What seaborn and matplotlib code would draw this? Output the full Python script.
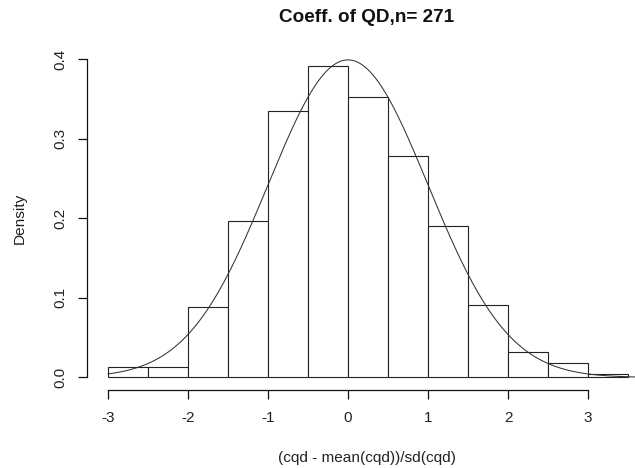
import numpy as np
import pandas as pd
import matplotlib
matplotlib.use("Agg")
import matplotlib.pyplot as plt
import seaborn as sns

# ---- data ----
bin_edges = [-3.0, -2.5, -2.0, -1.5, -1.0, -0.5, 0.0, 0.5, 1.0, 1.5, 2.0, 2.5, 3.0, 3.5]
bin_centers = [-2.75, -2.25, -1.75, -1.25, -0.75, -0.25, 0.25, 0.75, 1.25, 1.75, 2.25, 2.75, 3.25]
density = [0.0136, 0.0136, 0.0882, 0.1966, 0.3348, 0.391, 0.3528, 0.2786, 0.1903,
           0.0911, 0.0324, 0.0178, 0.0038]
x_ticks = [-3, -2, -1, 0, 1, 2, 3]
x_tick_labels = ["-3", "-2", "-1", "0", "1", "2", "3"]
y_ticks = [0.0, 0.1, 0.2, 0.3, 0.4]
y_tick_labels = ["0.0", "0.1", "0.2", "0.3", "0.4"]
title = "Coeff. of QD,n= 271"
xlabel = "(cqd - mean(cqd))/sd(cqd)"
ylabel = "Density"
norm_mu, norm_sigma = 0.0, 1.0

sns.set_style("white")
plt.rcParams["font.family"] = ["Liberation Sans", "DejaVu Sans"]

W, H = 635, 468
fig = plt.figure(figsize=(W / 100, H / 100), dpi=100)
# plot region in pixels
left_px, right_px = 87, 635
bottom_px, top_px = 390.2, 46.3
ax = fig.add_axes([left_px / W, 1 - bottom_px / H, (right_px - left_px) / W, (bottom_px - top_px) / H])

df = pd.DataFrame({"x": bin_centers, "d": density})
sns.histplot(data=df, x="x", weights="d", bins=bin_edges, stat="count",
             color="white", edgecolor="#222222", linewidth=0.8, alpha=1, ax=ax)

xs = np.linspace(-3.0, 3.5875, 400)
ys = np.exp(-((xs - norm_mu) ** 2) / (2 * norm_sigma ** 2)) / (norm_sigma * np.sqrt(2 * np.pi))
sns.lineplot(x=xs, y=ys, color="#333333", linewidth=0.75, ax=ax)

ax.set_xlim(-3.2625, 3.5875)
ax.set_ylim(-0.016, 0.416)

for s in ["top", "right"]:
    ax.spines[s].set_visible(False)
ax.spines["left"].set_bounds(0, 0.4)
ax.spines["bottom"].set_bounds(-3, 3)
for s in ["left", "bottom"]:
    ax.spines[s].set_color("#111111")
    ax.spines[s].set_linewidth(0.9)

ax.set_xticks(x_ticks)
ax.set_xticklabels(x_tick_labels)
ax.set_yticks(y_ticks)
ax.set_yticklabels(y_tick_labels, rotation=90, va="center")
ax.tick_params(axis="both", direction="out", length=6.8, width=0.9, color="#111111",
               labelsize=11, labelcolor="#222222", bottom=True, left=True)
ax.tick_params(axis="x", pad=8)
ax.tick_params(axis="y", pad=7)
ax.set_xlabel("")
ax.set_ylabel("")
ax.grid(False)

fig.text(366.7 / W, 1 - 17.5 / H, title, ha="center", va="center", fontsize=13.6,
         fontweight="bold", color="#111111")
fig.text(366.7 / W, 1 - 458 / H, xlabel, ha="center", va="center", fontsize=11.1, color="#222222")
fig.text(19.5 / W, 1 - 218 / H, ylabel, ha="center", va="center", fontsize=11.1,
         rotation=90, color="#222222")

fig.savefig("out.png", dpi=100, facecolor="white")
